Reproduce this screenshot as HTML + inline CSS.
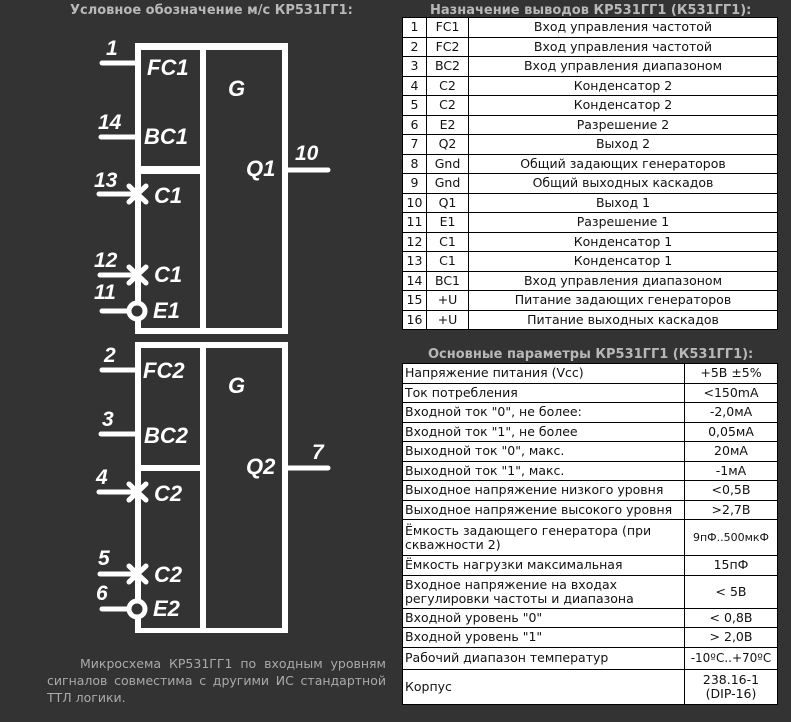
<!DOCTYPE html>
<html><head><meta charset="utf-8"><style>
body{margin:0;width:791px;height:722px;background:#333333;position:relative;overflow:hidden;font-family:"DejaVu Sans","Liberation Sans",sans-serif}
.t{position:absolute;color:#b8b8b8;font-weight:bold;font-size:13px;white-space:nowrap;font-family:"DejaVu Sans",sans-serif}
table{position:absolute;border-collapse:collapse;background:#fff;font-size:12.5px;color:#111}
td{border:1px solid #000;padding:0 2px;line-height:14px}
#t1 td{height:18.5px;text-align:center;padding:0}
#t2 td{height:18.5px}
#t2 td.v{text-align:center;padding:0}
p{position:absolute;left:47px;top:655px;width:339px;margin:0;color:#aaa;font-size:12.5px;line-height:17px;text-align:justify;text-indent:33px;font-family:"DejaVu Sans",sans-serif}
</style></head><body>
<div class="t" style="left:70px;top:3px">Условное обозначение м/с КР531ГГ1:</div>
<div class="t" style="left:430px;top:3px">Назначение выводов КР531ГГ1 (К531ГГ1):</div>
<div class="t" style="left:428px;top:347px">Основные параметры КР531ГГ1 (К531ГГ1):</div>
<svg width="791" height="722" style="position:absolute;left:0;top:0" font-family="Liberation Sans,sans-serif" font-weight="bold" font-style="italic" fill="#fff">
<g>
<rect x="135" y="43" width="153" height="291" fill="#fff"/>
<rect x="141" y="50" width="59" height="116" fill="#333"/>
<rect x="141" y="174" width="59" height="154" fill="#333"/>
<rect x="206" y="50" width="76" height="278" fill="#333"/>
<g stroke="#fff" stroke-width="5" stroke-linecap="round">
<line x1="102" y1="63" x2="135" y2="63"/><line x1="101" y1="137" x2="135" y2="137"/>
<line x1="99" y1="194" x2="135" y2="194"/><line x1="100" y1="275" x2="135" y2="275"/>
<line x1="102" y1="311" x2="128" y2="311"/><line x1="288" y1="170" x2="328" y2="170"/>
<path d="M129 186L146 202M146 186L129 202M129 267L146 283M146 267L129 283"/>
</g>
<circle cx="137" cy="311" r="8" fill="#333" stroke="#fff" stroke-width="5"/>
<g font-size="22"><text x="147" y="75">FC1</text><text x="144" y="144">BC1</text><text x="154" y="203">C1</text><text x="154" y="282">C1</text><text x="153" y="318">E1</text><text x="228" y="96">G</text><text x="246" y="176">Q1</text></g>
<g font-size="21"><text x="106" y="55">1</text><text x="98" y="129">14</text><text x="94" y="187">13</text><text x="94" y="267">12</text><text x="94" y="299">11</text><text x="295" y="160">10</text></g>
</g>
<g>
<rect x="135" y="342" width="153" height="291" fill="#fff"/>
<rect x="141" y="348" width="59" height="117" fill="#333"/>
<rect x="141" y="471" width="59" height="157" fill="#333"/>
<rect x="206" y="348" width="76" height="280" fill="#333"/>
<g stroke="#fff" stroke-width="5" stroke-linecap="round">
<line x1="102" y1="370" x2="135" y2="370"/><line x1="101" y1="434" x2="135" y2="434"/>
<line x1="99" y1="492" x2="135" y2="492"/><line x1="100" y1="574" x2="135" y2="574"/>
<line x1="102" y1="609" x2="128" y2="609"/><line x1="288" y1="468" x2="328" y2="468"/>
<path d="M129 484L146 500M146 484L129 500M129 566L146 582M146 566L129 582"/>
</g>
<circle cx="137" cy="609" r="8" fill="#333" stroke="#fff" stroke-width="5"/>
<g font-size="22"><text x="143" y="378">FC2</text><text x="144" y="443">BC2</text><text x="154" y="501">C2</text><text x="154" y="582">C2</text><text x="153" y="616">E2</text><text x="228" y="393">G</text><text x="246" y="474">Q2</text></g>
<g font-size="21"><text x="104" y="362">2</text><text x="102" y="426">3</text><text x="96" y="484">4</text><text x="98" y="565">5</text><text x="96" y="600">6</text><text x="312" y="459">7</text></g>
</g>
</svg>
<table id="t1" style="left:402px;top:17px;width:376px">
<tr><td style="width:23px">1</td><td style="width:41px">FC1</td><td>Вход управления частотой</td></tr>
<tr><td>2</td><td>FC2</td><td>Вход управления частотой</td></tr>
<tr><td>3</td><td>BC2</td><td>Вход управления диапазоном</td></tr>
<tr><td>4</td><td>C2</td><td>Конденсатор 2</td></tr>
<tr><td>5</td><td>C2</td><td>Конденсатор 2</td></tr>
<tr><td>6</td><td>E2</td><td>Разрешение 2</td></tr>
<tr><td>7</td><td>Q2</td><td>Выход 2</td></tr>
<tr><td>8</td><td>Gnd</td><td>Общий задающих генераторов</td></tr>
<tr><td>9</td><td>Gnd</td><td>Общий выходных каскадов</td></tr>
<tr><td>10</td><td>Q1</td><td>Выход 1</td></tr>
<tr><td>11</td><td>E1</td><td>Разрешение 1</td></tr>
<tr><td>12</td><td>C1</td><td>Конденсатор 1</td></tr>
<tr><td>13</td><td>C1</td><td>Конденсатор 1</td></tr>
<tr><td>14</td><td>BC1</td><td>Вход управления диапазоном</td></tr>
<tr><td>15</td><td>+U</td><td>Питание задающих генераторов</td></tr>
<tr><td>16</td><td>+U</td><td>Питание выходных каскадов</td></tr>
</table>
<table id="t2" style="left:402px;top:363px;width:376px">
<tr><td style="width:277px">Напряжение питания (Vcc)</td><td class="v">+5В ±5%</td></tr>
<tr><td>Ток потребления</td><td class="v">&lt;150mA</td></tr>
<tr><td>Входной ток "0", не более:</td><td class="v">-2,0мА</td></tr>
<tr><td>Входной ток "1", не более</td><td class="v">0,05мА</td></tr>
<tr><td>Выходной ток "0", макс.</td><td class="v">20мА</td></tr>
<tr><td>Выходной ток "1", макс.</td><td class="v">-1мА</td></tr>
<tr><td>Выходное напряжение низкого уровня</td><td class="v">&lt;0,5В</td></tr>
<tr><td>Выходное напряжение высокого уровня</td><td class="v">&gt;2,7В</td></tr>
<tr><td style="height:35px">Ёмкость задающего генератора (при скважности 2)</td><td class="v" style="font-size:11px">9пФ..500мкФ</td></tr>
<tr><td>Ёмкость нагрузки максимальная</td><td class="v">15пФ</td></tr>
<tr><td style="height:32px">Входное напряжение на входах регулировки частоты и диапазона</td><td class="v">&lt; 5В</td></tr>
<tr><td>Входной уровень "0"</td><td class="v">&lt; 0,8В</td></tr>
<tr><td>Входной уровень "1"</td><td class="v">&gt; 2,0В</td></tr>
<tr><td style="height:21px">Рабочий диапазон температур</td><td class="v" style="font-size:12px">-10ºC..+70ºC</td></tr>
<tr><td style="height:34px">Корпус</td><td class="v">238.16-1<br>(DIP-16)</td></tr>
</table>
<p>Микросхема КР531ГГ1 по входным уровням сигналов совместима с другими ИС стандартной ТТЛ логики.</p>
</body></html>
